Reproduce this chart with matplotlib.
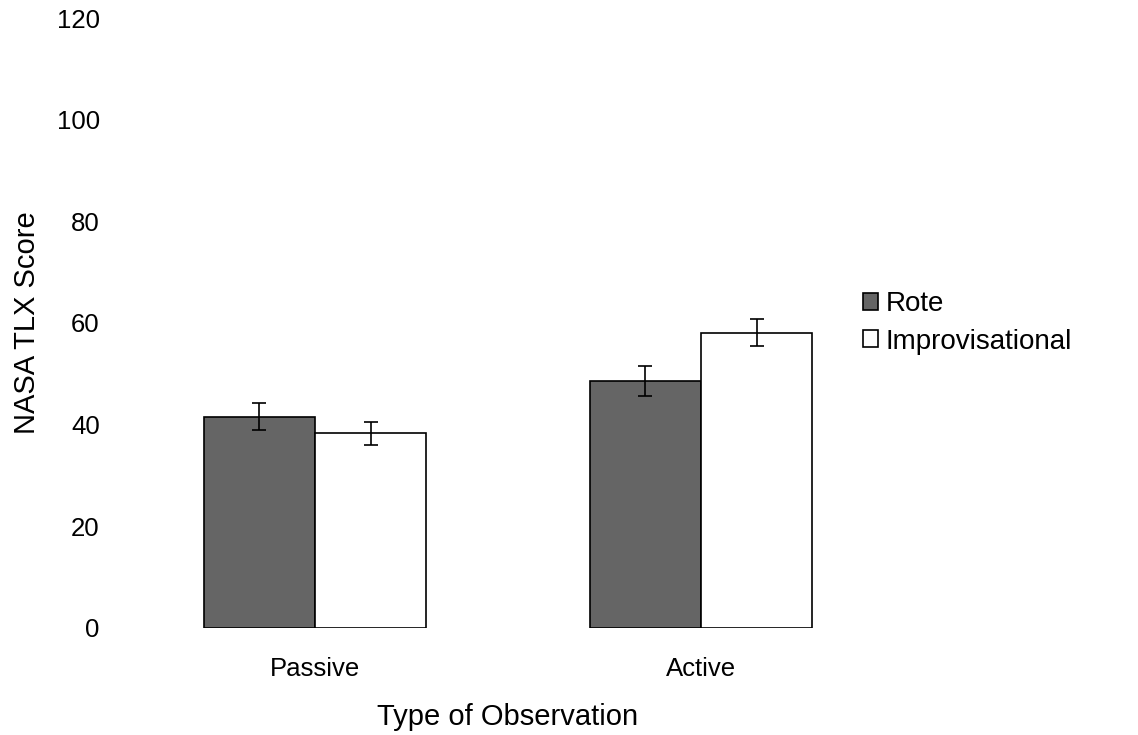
import numpy as np
import matplotlib.pyplot as plt

plt.rcParams['font.family'] = ['Liberation Sans', 'DejaVu Sans']

categories = ['Passive', 'Active']
series = ['Rote', 'Improvisational']
rote = [41.6, 48.6]
rote_err = [2.6, 3.0]
improv = [38.3, 58.1]
improv_err = [2.3, 2.7]

fig = plt.figure(figsize=(11.38, 7.35), dpi=100)
ax = fig.add_axes([0.1072, 0.1456, 0.6784, 0.8299])

x = np.arange(len(categories))
w = 0.288
ax.bar(x - w / 2, rote, w, color='#656565', edgecolor='black', linewidth=1.2,
       label=series[0])
ax.bar(x + w / 2, improv, w, color='white', edgecolor='black', linewidth=1.2,
       label=series[1])
ax.errorbar(x - w / 2, rote, yerr=rote_err, fmt='none', ecolor='black',
            elinewidth=1.2, capsize=5, capthick=1.2)
ax.errorbar(x + w / 2, improv, yerr=improv_err, fmt='none', ecolor='black',
            elinewidth=1.2, capsize=5, capthick=1.2)

ax.set_xlim(-0.5, 1.5)
ax.set_ylim(0, 120)
ax.set_yticks(range(0, 121, 20))
ax.set_xticks(x)
ax.set_xticklabels(categories)
for s in ax.spines.values():
    s.set_visible(False)
ax.tick_params(axis='both', length=0, labelsize=18.5)
ax.tick_params(axis='y', pad=16)
ax.tick_params(axis='x', pad=21)

ax.set_ylabel('NASA TLX Score', fontsize=21, labelpad=11)
ax.set_xlabel('Type of Observation', fontsize=21, labelpad=16)

ax.legend(loc='center left', bbox_to_anchor=(0.942, 0.50), frameon=False,
          fontsize=20, handlelength=0.55, handleheight=0.55,
          handletextpad=0.25, labelspacing=0.4, borderpad=0)

fig.savefig('out.png', dpi=100)
